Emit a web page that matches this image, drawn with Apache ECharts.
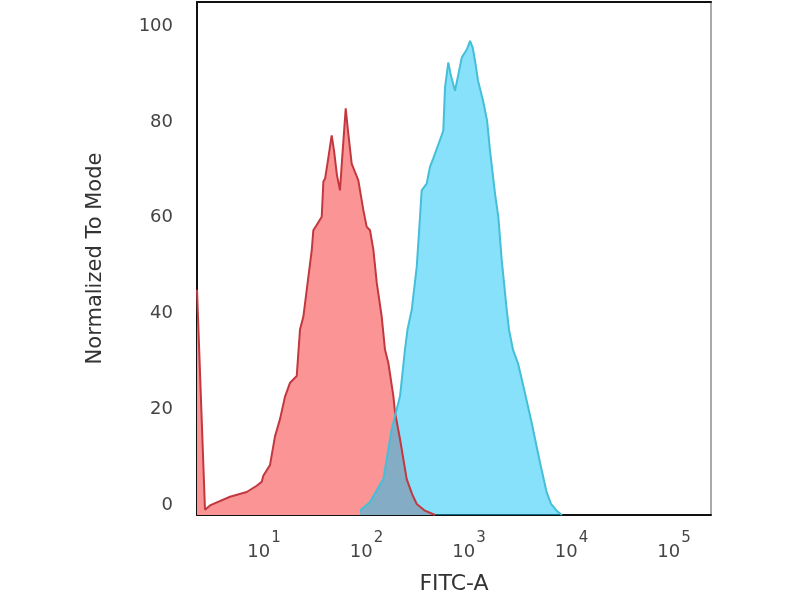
<!DOCTYPE html>
<html>
<head>
<meta charset="utf-8">
<script src="https://cdn.jsdelivr.net/npm/echarts@6/dist/echarts.min.js"></script>
<style>html,body{margin:0;padding:0;background:#fff;}#chart{width:800px;height:600px;}</style>
</head>
<body>
<div id="chart"></div>
<script>
// x positions are log10(FITC-A intensity); y is Normalized To Mode
const redX = [0.346,0.424,0.473,0.668,0.831,0.928,0.977,0.993,1.058,1.107,1.156,1.205,1.254,1.319,1.351,1.384,1.417,1.466,1.481,1.514,1.563,1.579,1.596,1.624,1.660,1.683,1.712,1.741,1.761,1.797,1.819,1.855,1.888,1.920,1.969,2.002,2.034,2.067,2.100,2.148,2.180,2.213,2.262,2.278,2.327,2.392,2.444,2.490,2.570,2.668];
const redY = [45.0,-0.9,0.0,1.8,2.8,4.1,4.9,6.2,8.4,14.4,18.0,22.7,25.6,27.0,36.7,39.4,45.0,53.3,57.4,58.5,60.2,67.5,68.2,72.0,77.2,74.0,68.8,65.7,72.0,82.8,78.2,71.3,69.5,67.8,61.6,58.1,57.4,53.3,46.4,39.4,32.5,29.7,22.8,19.4,13.8,5.5,2.4,0.3,-1.1,-2.0];
const blueX = [1.936,2.034,2.164,2.246,2.327,2.375,2.400,2.441,2.490,2.522,2.538,2.587,2.619,2.651,2.687,2.733,2.749,2.766,2.798,2.824,2.863,2.893,2.929,2.961,2.981,3.010,3.036,3.059,3.088,3.137,3.176,3.205,3.254,3.286,3.319,3.368,3.390,3.429,3.481,3.530,3.611,3.692,3.758,3.800,3.855,3.907];
const blueY = [-1.1,0.7,5.5,15.9,22.8,32.5,36.7,40.8,49.8,60.2,65.7,67.1,70.6,72.4,74.5,77.2,78.2,87.2,92.4,89.6,86.5,89.6,93.4,94.5,95.2,96.9,95.5,92.7,88.6,84.4,80.3,74.0,65.0,60.2,51.2,40.8,36.7,32.5,29.4,24.9,17.3,9.0,2.7,0.3,-1.1,-2.0];
const xTicks = [1,2,3,4,5];
const yTicks = [0,20,40,60,80,100];
const xName = 'FITC-A';
const yName = 'Normalized To Mode';

const chart = echarts.init(document.getElementById('chart'));
chart.setOption({
  animation: false,
  backgroundColor: '#fff',
  grid: {left: 197, right: 89, top: 2, bottom: 84, show: false},
  xAxis: [{
    type: 'value', min: 0.346, max: 5.361,
    name: xName, nameLocation: 'middle', nameGap: 58,
    nameTextStyle: {fontFamily: 'DejaVu Sans', fontSize: 22, color: '#333'},
    axisLine: {show: true, onZero: false, lineStyle: {color: '#111', width: 2}},
    axisTick: {show: false}, splitLine: {show: false},
    axisLabel: {
      customValues: xTicks, margin: 16,
      formatter: v => '{b|10}{s|' + v + '}',
      rich: {
        b: {fontFamily: 'DejaVu Sans', fontSize: 18, color: '#444', lineHeight: 30, verticalAlign: 'bottom'},
        s: {fontFamily: 'DejaVu Sans', fontSize: 15, color: '#444', lineHeight: 30, verticalAlign: 'top', padding: [0,0,0,1]}
      }
    }
  }, {
    type: 'value', min: 0.346, max: 5.361, position: 'top',
    axisLine: {show: true, onZero: false, lineStyle: {color: '#111', width: 2}},
    axisTick: {show: false}, axisLabel: {show: false}, splitLine: {show: false}
  }],
  yAxis: [{
    type: 'value', min: -2, max: 105,
    name: yName, nameLocation: 'middle', nameGap: 91, nameRotate: 90,
    nameTextStyle: {fontFamily: 'DejaVu Sans', fontSize: 21, color: '#333'},
    axisLine: {show: true, onZero: false, lineStyle: {color: '#111', width: 2}},
    axisTick: {show: false}, splitLine: {show: false},
    axisLabel: {customValues: yTicks, margin: 24, fontFamily: 'DejaVu Sans', fontSize: 18, color: '#444'}
  }, {
    type: 'value', min: -2, max: 105, position: 'right',
    axisLine: {show: true, onZero: false, lineStyle: {color: '#aaa', width: 2}},
    axisTick: {show: false}, axisLabel: {show: false}, splitLine: {show: false}
  }],
  series: [{
    type: 'line', data: redX.map((x, i) => [x, redY[i]]),
    symbol: 'none', clip: true,
    lineStyle: {color: '#c2383f', width: 2},
    areaStyle: {color: '#fb9595', opacity: 1, origin: 'start'}
  }, {
    type: 'line', data: blueX.map((x, i) => [x, blueY[i]]),
    symbol: 'none', clip: true,
    lineStyle: {color: '#45bfd8', width: 2},
    areaStyle: {color: 'rgba(15,196,245,0.5)', opacity: 1, origin: 'start'}
  }]
});
</script>
</body>
</html>
